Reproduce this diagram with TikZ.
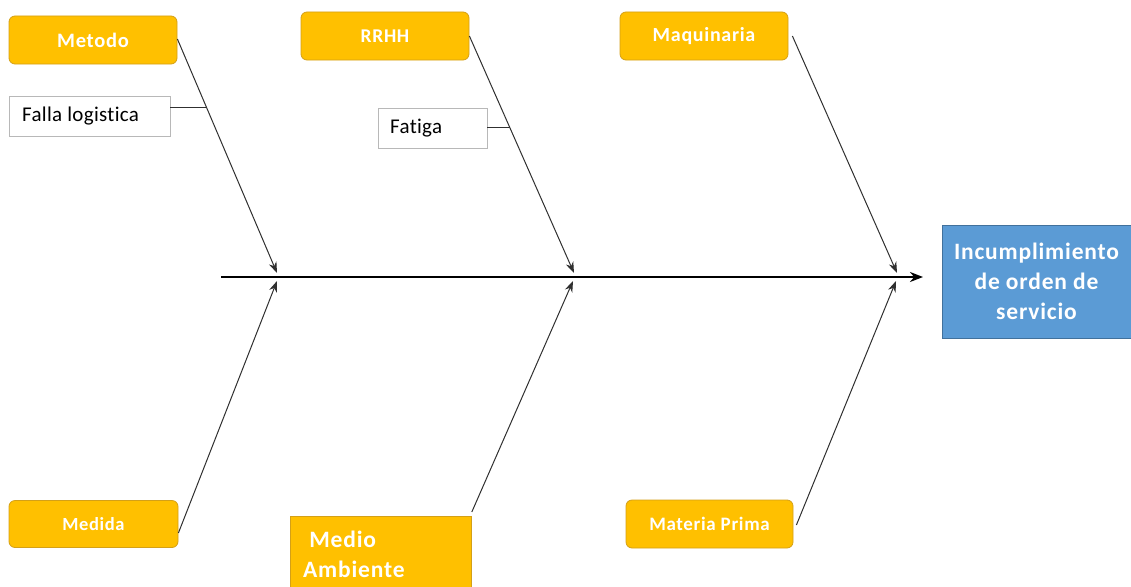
\documentclass[tikz,border=0pt]{standalone}
\usepackage{fontspec}
\setmainfont[Ligatures={NoCommon}]{Carlito}
\newfontfamily\lsfont[LetterSpace=3.5,Ligatures={NoCommon}]{Carlito}
\newfontfamily\lsreg[LetterSpace=1.5,Ligatures={NoCommon}]{Carlito}
\usetikzlibrary{arrows.meta,calc}
\definecolor{cat}{HTML}{FFC000}
\definecolor{catb}{HTML}{D4A017}
\definecolor{eff}{HTML}{5B9BD5}
\definecolor{effb}{HTML}{41719C}
\definecolor{ln}{HTML}{303030}
\tikzset{
  catbox/.style={draw=catb, fill=cat, rounded corners=6pt, line width=0.8pt,
    minimum width=168pt, minimum height=48pt, inner sep=0pt,
    text=white, font=\lsfont\bfseries},
  subbox/.style={draw=black!28, fill=white, line width=0.8pt, inner sep=0pt,
    minimum height=40pt},
  subtext/.style={anchor=west, inner sep=0pt, text=black, font=\lsreg\fontsize{21}{26}\selectfont},
  conn/.style={draw=ln, line width=1pt, -{Stealth[length=11pt,width=8pt]}},
  sub/.style={draw=ln, line width=1pt}
}
\begin{document}
\begin{tikzpicture}[x=1pt,y=-1pt]
\useasboundingbox (0,0) rectangle (1131,586);
% nodes
\node[catbox] (met) at (93,40) {\fontsize{20.5}{24}\selectfont Metodo};
\node[catbox] (rrhh) at (385,36) {\fontsize{19.5}{24}\selectfont RRHH};
\node[catbox] (maq) at (704,36) {\fontsize{20}{24}\selectfont Maquinaria};
\node[catbox, minimum width=169pt, minimum height=47pt] (med) at (93.5,524) {\fontsize{18.5}{22}\selectfont Medida};
\node[catbox, minimum width=167pt] (mat) at (709.5,524) {\fontsize{19}{22}\selectfont Materia Prima};
\begin{scope}
\clip (0,0) rectangle (1131,586);
\node[draw=catb, fill=cat, line width=0.8pt, minimum width=181pt, minimum height=80pt, inner sep=0pt, anchor=north west] (amb) at (290,516) {};
\end{scope}
\node[anchor=north west, align=left, text=white, inner sep=0pt,
  font=\lsfont\bfseries\fontsize{23.5}{30}\selectfont] (ambt) at (303,531) {\ Medio\\Ambiente};
\node[subbox, minimum width=161pt] (fal) at (89.5,116) {};
\node[subtext] (falt) at (22,116) {Falla logistica};
\node[subbox, minimum width=109pt] (fat) at (432.5,128) {};
\node[subtext] (fatt) at (390,128) {Fatiga};
\node[draw=effb, fill=eff, line width=0.8pt, minimum width=189pt, minimum height=113pt,
  inner sep=0pt, text=white, align=center,
  font=\lsfont\bfseries\fontsize{23.5}{30}\selectfont] (eff) at (1036.5,281.5)
  {Incumplimiento\\de orden de\\servicio};
% coordinates
\coordinate (s0) at (221,277);
\coordinate (s1) at (923,277);
\coordinate (m1) at (277,273);
\coordinate (m2) at (574,273);
\coordinate (m3) at (897,273);
\coordinate (b1) at (277,281);
\coordinate (b2) at (573,281);
\coordinate (b3) at (896,281);
\coordinate (f1) at (205.5,107);
\coordinate (f2) at (510,127);
% spine
\draw[line width=2.6pt, -{Stealth[length=13pt,width=10pt]}] (s0) -- (s1);
% bones
\draw[conn] ([yshift=1pt]met.east) -- (m1);
\draw[conn] (rrhh.east) -- (m2);
\draw[conn] ([xshift=4pt]maq.east) -- (m3);
\draw[conn] ([yshift=-9pt]med.east) -- (b1);
\draw[conn] ([yshift=4pt]amb.north east) -- (b2);
\draw[conn] ([xshift=3pt,yshift=-1pt]mat.east) -- (b3);
% sub-causes
\draw[sub] (fal.east |- f1) -- (f1);
\draw[sub] (fat.east |- f2) -- (f2);
\end{tikzpicture}
\end{document}
